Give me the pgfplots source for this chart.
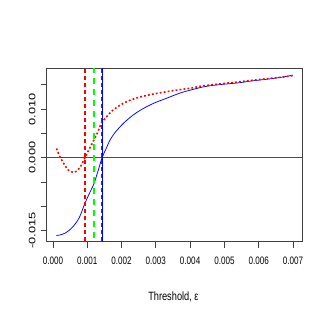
\documentclass[border=0pt]{standalone}
\usepackage{fontspec}
\setmainfont{Liberation Sans}
\usepackage{graphicx}
\usepackage{pgfplots}
\pgfplotsset{compat=1.18}
\definecolor{rblue}{RGB}{0,0,255}
\definecolor{rred}{RGB}{255,0,0}
\definecolor{rgreen}{RGB}{0,255,0}
\newcommand{\xl}[1]{\scalebox{0.75}[1]{#1}}
\newcommand{\yl}[1]{\scalebox{1}[0.73]{#1}}
\begin{document}
\fontsize{11bp}{13bp}\selectfont
\begin{tikzpicture}
\useasboundingbox (0,0) rectangle (327bp,327bp);
\begin{axis}[
  at={(46.7bp,85.3bp)}, anchor=south west,
  scale only axis, width=256bp, height=173.4bp,
  xmin=-0.000185, xmax=0.007285,
  ymin=-0.01728, ymax=0.0184,
  axis line style={black!75, line width=0.9bp},
  tick style={black!75, line width=0.8bp},
  tick align=outside, major tick length=6bp,
  xtick pos=left, ytick pos=left,
  xtick={0,0.001,0.002,0.003,0.004,0.005,0.006,0.007},
  xticklabels={\xl{0.000},\xl{0.001},\xl{0.002},\xl{0.003},\xl{0.004},\xl{0.005},\xl{0.006},\xl{0.007}},
  ytick={-0.015,-0.01,-0.005,0,0.005,0.01,0.015},
  yticklabels={\yl{-0.015},{},{},\yl{0.000},{},\yl{0.010},{}},
  xticklabel style={anchor=base, inner sep=0pt, font=\fontsize{10.8bp}{13bp}\selectfont},
  xticklabel shift=17bp,
  yticklabel style={rotate=90, anchor=south, inner sep=0pt, font=\fontsize{12.8bp}{15bp}\selectfont},
  yticklabel shift=5bp,
  scaled ticks=false,
  xlabel={\scalebox{0.77}[1]{Threshold, ε}},
  xlabel style={at={(axis description cs:0.495,0)}, anchor=base, yshift=-59bp, inner sep=0pt, font=\fontsize{12bp}{14bp}\selectfont},
  clip=true,
]
% zero line
\addplot[black!70, line width=1.2bp] coordinates {(-0.001,0) (0.008,0)};
% blue curve
\addplot[rblue, line width=0.75bp, smooth] coordinates {
(0.0001,-0.0160) (0.0002,-0.0159) (0.00034,-0.01556) (0.00046,-0.0150) (0.00058,-0.0142)
(0.00068,-0.0133) (0.00078,-0.0121) (0.00093,-0.0094) (0.00105,-0.0075) (0.00119,-0.0054)
(0.00131,-0.0028) (0.00143,0.0) (0.00155,0.0019) (0.00166,0.0036) (0.0018,0.0051)
(0.0020,0.0067) (0.00215,0.0077) (0.00234,0.0088) (0.00253,0.0097) (0.00273,0.0105)
(0.0030,0.0114) (0.0033,0.0122) (0.0037,0.0133) (0.0040,0.0139) (0.0044,0.0146)
(0.0048,0.0150) (0.0054,0.0154) (0.0058,0.0158) (0.0063,0.0162) (0.0067,0.0166) (0.0070,0.0170)
};
% red dotted curve
\addplot[rred, line width=1.6bp, dash pattern=on 1.8bp off 2.2bp, smooth] coordinates {
(0.0001,0.0019) (0.0002,0.0002) (0.00034,-0.0015) (0.00044,-0.0025) (0.00058,-0.0030)
(0.0007,-0.0027) (0.00083,-0.0015) (0.00093,0.0) (0.00105,0.0017) (0.00117,0.0033)
(0.0013,0.0052) (0.00141,0.0071) (0.00156,0.0084) (0.0017,0.0095) (0.00195,0.0108)
(0.0022,0.0117) (0.00254,0.0125) (0.003,0.0132) (0.0035,0.0138) (0.0040,0.0143)
(0.0044,0.0148) (0.0049,0.0152) (0.0054,0.0156) (0.0059,0.0160) (0.0063,0.0163)
(0.0067,0.0166) (0.0070,0.0169)
};
% vertical lines
\addplot[rred, line width=1.4bp, dash pattern=on 3.5bp off 3.5bp] coordinates {(0.00093,-0.03) (0.00093,0.03)};
\addplot[rgreen, line width=1.7bp, dash pattern=on 6bp off 5bp] coordinates {(0.00119,-0.03) (0.00119,0.03)};
\addplot[rred!80!black, line width=1.1bp, dash pattern=on 3.5bp off 3.5bp] coordinates {(0.001415,-0.03) (0.001415,0.03)};
\addplot[rblue, line width=0.8bp] coordinates {(0.00144,-0.03) (0.00144,0.03)};
\end{axis}
\end{tikzpicture}
\end{document}
